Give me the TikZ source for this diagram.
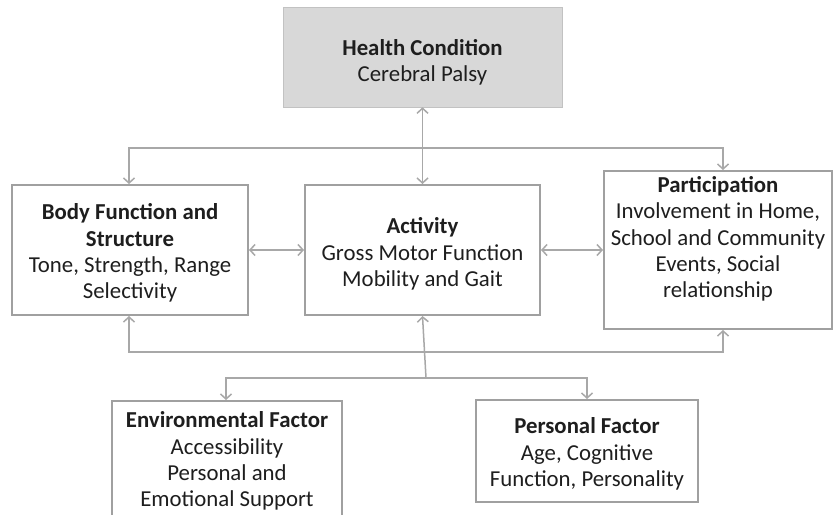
\documentclass[tikz,border=0pt]{standalone}
\usepackage{fontspec}
\setmainfont{Carlito}
\usetikzlibrary{arrows.meta}
\definecolor{boxline}{HTML}{A0A0A0}
\definecolor{conn}{HTML}{A8A8A8}
\definecolor{hcfill}{HTML}{D8D8D8}
\definecolor{txt}{HTML}{1E1E1E}
\begin{document}
\begin{tikzpicture}[x=1pt,y=-1pt,
  box/.style={draw=boxline,line width=2pt,fill=white,rectangle,inner sep=0pt},
  hcbox/.style={draw=hcfill!90!black,line width=0.6pt,fill=hcfill,rectangle,inner sep=0pt},
  lbl/.style={align=center,text=txt,font=\fontsize{22.8}{26.2}\selectfont,inner sep=0pt},
  conline/.style={draw=conn,line width=1.5pt},
  tip/.style={-{Straight Barb[length=5pt,width=11pt,line width=1.5pt]}},
  tips/.style={{Straight Barb[length=5pt,width=11pt,line width=1.5pt]}-{Straight Barb[length=5pt,width=11pt,line width=1.5pt]}}]
\clip (0,0) rectangle (834,514);
\fill[white] (0,0) rectangle (834,514);
% boxes
\node[hcbox,minimum width=279pt,minimum height=100pt] (health) at (422.5,57) {};
\node[box,minimum width=236pt,minimum height=130pt] (body) at (130,250) {};
\node[box,minimum width=235pt,minimum height=130pt] (act) at (422.5,250) {};
\node[box,minimum width=228pt,minimum height=158pt] (part) at (718,250) {};
\node[box,minimum width=230pt,minimum height=124pt] (env) at (227,463) {};
\node[box,minimum width=222pt,minimum height=102pt] (pers) at (587,451) {};
% texts
\node[lbl] (healthT) at (422.5,62) {\textbf{Health Condition}\\Cerebral Palsy};
\node[lbl] (bodyT) at (130,253) {\textbf{Body Function and}\\\textbf{Structure}\\Tone, Strength, Range\\Selectivity};
\node[lbl] (actT) at (422.5,254) {\textbf{Activity}\\Gross Motor Function\\Mobility and Gait};
\node[lbl] (partT) at (718,239) {\textbf{Participation}\\Involvement in Home,\\School and Community\\Events, Social\\relationship};
\node[lbl] (envT) at (227,461) {\textbf{Environmental Factor}\\Accessibility\\Personal and\\Emotional Support};
\node[lbl] (persT) at (587,454) {\textbf{Personal Factor}\\Age, Cognitive\\Function, Personality};
% junction coordinates
\coordinate (tl) at (129,148);
\coordinate (tr) at (723,148);
\coordinate (bl) at (129,352);
\coordinate (br) at (723,352);
\coordinate (jm) at (426,378);
\coordinate (el) at (226,378);
\coordinate (er) at (587,378);
% connectors
\draw[conline,tips] (health.south) -- (act.north);
\draw[conline,tip] (tr) -- (tl) -- (tl |- body.north);
\draw[conline,tip] (tl) -- (tr) -- (tr |- part.north);
\draw[conline,tips] (body.east) -- (act.west);
\draw[conline,tips] (act.east) -- (part.west);
\draw[conline,tip] (br) -- (bl) -- (bl |- body.south);
\draw[conline,tip] (bl) -- (br) -- (br |- part.south);
\draw[conline,tip] (jm) -- (act.south);
\draw[conline,tip] (er) -- (el) -- (el |- env.north);
\draw[conline,tip] (el) -- (er) -- (er |- pers.north);
\end{tikzpicture}
\end{document}
